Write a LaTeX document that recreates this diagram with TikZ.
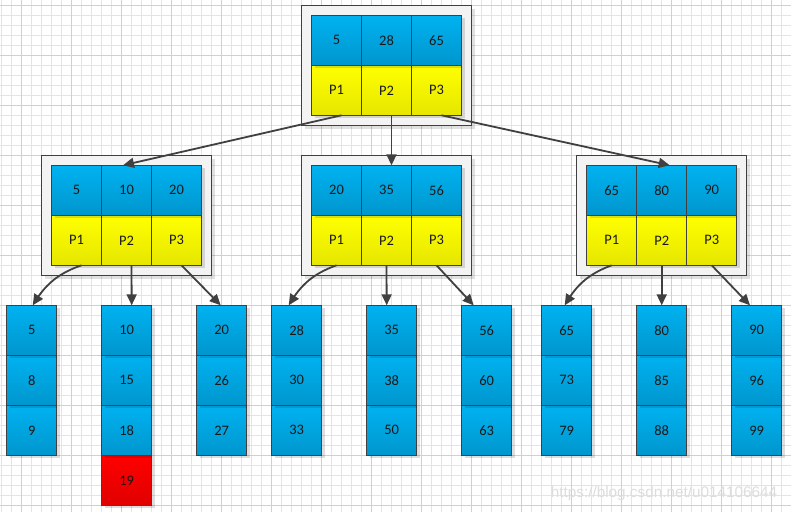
\documentclass[tikz,border=0pt]{standalone}
\usepackage{fontspec}
\setmainfont{Carlito}
\newfontfamily\wmfont{Liberation Sans}
\usetikzlibrary{arrows.meta,shadows,bending}
\definecolor{linec}{HTML}{404040}
\definecolor{gridminor}{HTML}{E4E4E4}
\definecolor{gridmajor}{HTML}{D0D0D0}
\definecolor{bluetop}{HTML}{00B2F0}
\definecolor{bluebot}{HTML}{0096CE}
\definecolor{yeltop}{HTML}{FFFF00}
\definecolor{yelbot}{HTML}{E6E600}
\definecolor{redtop}{HTML}{FF0000}
\definecolor{redbot}{HTML}{E00000}
\definecolor{boxfill}{HTML}{F3F3F3}
\definecolor{wmgray}{HTML}{DDDDDD}
\tikzset{
  cellbox/.style={draw=linec, line width=0.8pt, minimum width=50pt, minimum height=50pt,
    inner sep=0pt, outer sep=0pt, font=\fontsize{14.5}{17}\selectfont, text=black!90,
    drop shadow={shadow xshift=3pt, shadow yshift=-3pt, fill=black, opacity=0.13}},
  bluecell/.style={cellbox, top color=bluetop, bottom color=bluebot},
  yelcell/.style={cellbox, top color=yeltop, bottom color=yelbot},
  redcell/.style={cellbox, top color=redtop, bottom color=redbot},
  outerbox/.style={draw=linec, line width=0.8pt, fill=boxfill, inner sep=0pt, outer sep=0pt,
    minimum width=170pt, minimum height=120pt,
    drop shadow={shadow xshift=3.5pt, shadow yshift=-3.5pt, fill=black, opacity=0.12}},
  link/.style={draw=linec, line width=1.8pt, -{Triangle[length=11pt,width=10pt]}},
}
% #1 name, #2 left x, #3 top y, #4-#6 keys
\newcommand\mkinner[6]{%
  \node[outerbox] (#1box) at (#2+75, #3+50) {};
  \foreach \i in {1,2,3} {
    \node[yelcell] (#1p\i) at (#2-25+50*\i, #3+75) {P\i};
  }
  \node[bluecell] (#11) at (#2+25, #3+25) {#4};
  \node[bluecell] (#12) at (#2+75, #3+25) {#5};
  \node[bluecell] (#13) at (#2+125, #3+25) {#6};
}
% #1 name, #2 left x, #3-#5 values
\newcommand\mkleaf[5]{%
  \node[bluecell] (#1c) at (#2+25, 430.3) {#5};
  \node[bluecell] (#1b) at (#2+25, 380.3) {#4};
  \node[bluecell] (#1a) at (#2+25, 330.3) {#3};
}
\begin{document}
\begin{tikzpicture}[x=1pt, y=-1pt]
  \useasboundingbox (0,0) rectangle (791,512);
  \fill[white] (0,0) rectangle (791,512);
  % grid
  \foreach \gx in {1,11,...,791} \draw[gridminor, line width=0.8pt] (\gx,0) -- (\gx,512);
  \foreach \gy in {5,15,...,512} \draw[gridminor, line width=0.8pt] (0,\gy) -- (791,\gy);
  \foreach \gx in {21,71,...,791} \draw[gridmajor, line width=0.8pt] (\gx,0) -- (\gx,512);
  \foreach \gy in {5,55,...,512} \draw[gridmajor, line width=0.8pt] (0,\gy) -- (791,\gy);

  % internal nodes
  \mkinner{t}{311.5}{15.3}{5}{28}{65}
  \mkinner{l}{51.5}{165.3}{5}{10}{20}
  \mkinner{m}{311.5}{165.3}{20}{35}{56}
  \mkinner{r}{586.7}{165.3}{65}{80}{90}

  % leaves
  \node[redcell] (redleaf) at (126.7, 480.3) {19};
  \mkleaf{fa}{6.7}{5}{8}{9}
  \mkleaf{fb}{101.7}{10}{15}{18}
  \mkleaf{fc}{196.7}{20}{26}{27}
  \mkleaf{fd}{271.7}{28}{30}{33}
  \mkleaf{fe}{366.7}{35}{38}{50}
  \mkleaf{ff}{461.7}{56}{60}{63}
  \mkleaf{fg}{541.7}{65}{73}{79}
  \mkleaf{fh}{636.7}{80}{85}{88}
  \mkleaf{fi}{731.7}{90}{96}{99}

  % connectors from root
  \draw[link] ([xshift=5pt]tp1.south) -- ([xshift=-3.5pt]l2.north);
  \draw[link] ([xshift=5pt]tp2.south) -- ([xshift=5pt]m2.north);
  \draw[link] ([xshift=5pt]tp3.south) -- ([xshift=8pt]r2.north);

  % connectors to leaves
  \draw[link] ([xshift=5pt]lp1.south) to[bend right=20] ([xshift=1pt]faa.north);
  \draw[link] ([xshift=5pt]lp2.south) -- ([xshift=5pt]fba.north);
  \draw[link] ([xshift=5pt]lp3.south) -- ([xshift=-1pt]fca.north);

  \draw[link] ([xshift=0pt]mp1.south) to[bend right=20] ([xshift=-8pt]fda.north);
  \draw[link] ([xshift=0pt]mp2.south) -- ([xshift=-5pt]fea.north);
  \draw[link] ([xshift=0pt]mp3.south) -- ([xshift=-13pt]ffa.north);

  \draw[link] ([xshift=0pt]rp1.south) to[bend right=20] ([xshift=-2pt]fga.north);
  \draw[link] ([xshift=0pt]rp2.south) -- ([xshift=0pt]fha.north);
  \draw[link] ([xshift=0pt]rp3.south) -- ([xshift=-6.7pt]fia.north);

  % watermark
  \node[font=\wmfont\fontsize{15.3}{17}\selectfont, text=wmgray, inner sep=0pt] (wm) at (664,494)
    {https://blog.csdn.net/u014106644};
\end{tikzpicture}
\end{document}
